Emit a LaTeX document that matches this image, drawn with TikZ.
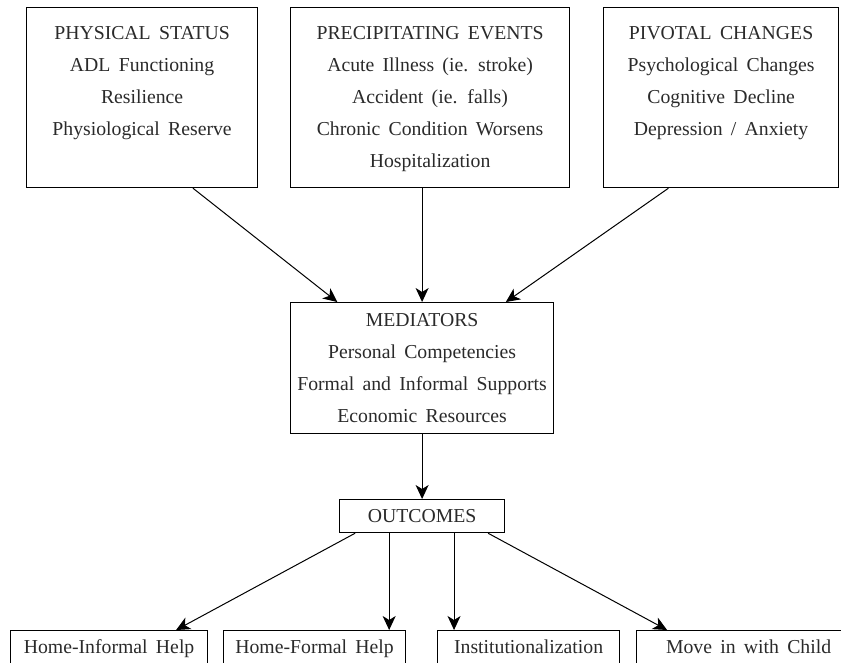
\documentclass[tikz,border=0pt]{standalone}
\usepackage{fontspec}
\setmainfont{Liberation Serif}
\usetikzlibrary{arrows.meta,calc}

\definecolor{inkgrey}{HTML}{2A2A2A}
\newcommand{\boxlines}[4]{\parbox[t][#2][t]{#1}{\centering\spaceskip=0.42em\relax\rule{0pt}{#3}#4}}

\tikzset{
  frame/.style={draw, line width=0.9pt, inner sep=0pt, anchor=north west,
                text=inkgrey, font=\fontsize{14.8}{24}\selectfont},
  arr/.style={-{Stealth[length=10.5pt,width=9.75pt,inset=3pt]}, line width=0.75pt},
}

\begin{document}
\begin{tikzpicture}[x=0.75pt,y=-0.75pt]
\useasboundingbox (0,0) rectangle (841,662);

\node[frame] (phys) at (26,7) {\boxlines{173.25pt}{135pt}{24pt}{PHYSICAL STATUS\\ADL Functioning\\Resilience\\Physiological Reserve}};
\node[frame] (prec) at (290,7) {\boxlines{209.25pt}{135pt}{24pt}{PRECIPITATING EVENTS\\Acute Illness (ie. stroke)\\Accident (ie. falls)\\Chronic Condition Worsens\\Hospitalization}};
\node[frame] (piv) at (603,7) {\boxlines{176.25pt}{135pt}{24pt}{PIVOTAL CHANGES\\Psychological Changes\\Cognitive Decline\\Depression / Anxiety}};

\node[frame] (med) at (290,302) {\boxlines{197.25pt}{98.25pt}{18pt}{MEDIATORS\\Personal Competencies\\Formal and Informal Supports\\Economic Resources}};

\node[frame] (out) at (339,499) {\boxlines{123.75pt}{24.75pt}{17pt}{OUTCOMES}};

\node[frame] (b1) at (10,630) {\boxlines{147.75pt}{45pt}{17pt}{Home-Informal Help}};
\node[frame] (b2) at (223,630) {\boxlines{136.5pt}{45pt}{17pt}{Home-Formal Help}};
\node[frame] (b3) at (437,630) {\boxlines{136.5pt}{45pt}{17pt}{Institutionalization}};
\node[frame] (b4) at (636,630) {\boxlines{168pt}{45pt}{17pt}{Move in with Child}};

\draw[arr] ($(phys.south west)!0.719!(phys.south east)$) -- ($(med.north west)!0.179!(med.north east)$);
\draw[arr] (prec.south -| med.north) -- (med.north);
\draw[arr] ($(piv.south west)!0.277!(piv.south east)$) -- ($(med.north west)!0.817!(med.north east)$);
\draw[arr] (med.south) -- (out.north);

\coordinate (b2t) at ($(b2.north west)!0.907!(b2.north east)$);
\coordinate (b3t) at ($(b3.north west)!0.093!(b3.north east)$);
\draw[arr] ($(out.south west)!0.097!(out.south east)$) -- ($(b1.north west)!0.838!(b1.north east)$);
\draw[arr] (b2t |- out.south) -- (b2t);
\draw[arr] (b3t |- out.south) -- (b3t);
\draw[arr] ($(out.south west)!0.897!(out.south east)$) -- ($(b4.north west)!0.138!(b4.north east)$);
\end{tikzpicture}
\end{document}
